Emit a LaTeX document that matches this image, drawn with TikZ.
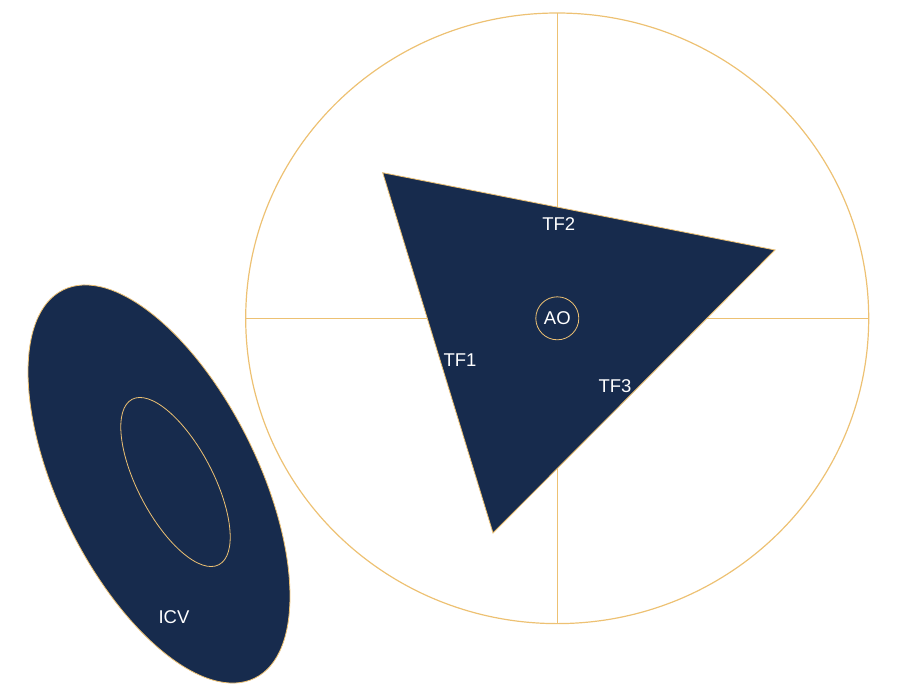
\documentclass[tikz,border=0pt]{standalone}
\usepackage{fontspec}
\setmainfont{Liberation Sans}
\definecolor{navy}{HTML}{172B4D}
\definecolor{gold}{HTML}{EDC173}
\begin{document}
\begin{tikzpicture}[x=1pt,y=-1pt,
  goldline/.style={draw=gold,line width=1.2pt},
  thinline/.style={draw=gold,line width=0.8pt},
  navyfill/.style={fill=navy,draw=gold,line width=0.8pt},
  lbl/.style={text=white,font=\fontsize{18.5}{20}\selectfont,inner sep=0pt}]
\useasboundingbox (0,0) rectangle (897,697);
% big circle with cross
\coordinate (C) at (557.2,318.3);
\draw[goldline] (C) ellipse [x radius=311.5pt, y radius=305.3pt];
\coordinate (Lw) at (245.7,318.3);
\coordinate (Le) at (868.7,318.3);
\coordinate (Ln) at (557.2,13);
\coordinate (Ls) at (557.2,623.6);
\draw[thinline] (Lw) -- (Le);
\draw[thinline] (Ln) -- (Ls);
% triangle
\coordinate (T1) at (382.7,172.7);
\coordinate (T2) at (775,250);
\coordinate (T3) at (493,533);
\path[navyfill] (T1) -- (T2) -- (T3) -- cycle;
% AO
\node[circle,draw=gold,line width=0.8pt,minimum size=43pt,inner sep=0pt,text=white,font=\fontsize{18.5}{20}\selectfont] (ao) at (557.3,318.3) {AO};
\node[lbl] (tf2) at (558.7,224) {TF2};
\node[lbl] (tf1) at (460,360) {TF1};
\node[lbl] (tf3) at (615,386.5) {TF3};
% ICV ellipse
\draw[navyfill,rotate around={-63.7:(159,484)}] (159,484) ellipse [x radius=216.5pt, y radius=99.5pt];
\draw[thinline,rotate around={-62.3:(175.5,482)}] (175.5,482) ellipse [x radius=93.4pt, y radius=37.6pt];
\node[lbl] (icv) at (174,617.5) {ICV};
\end{tikzpicture}
\end{document}
